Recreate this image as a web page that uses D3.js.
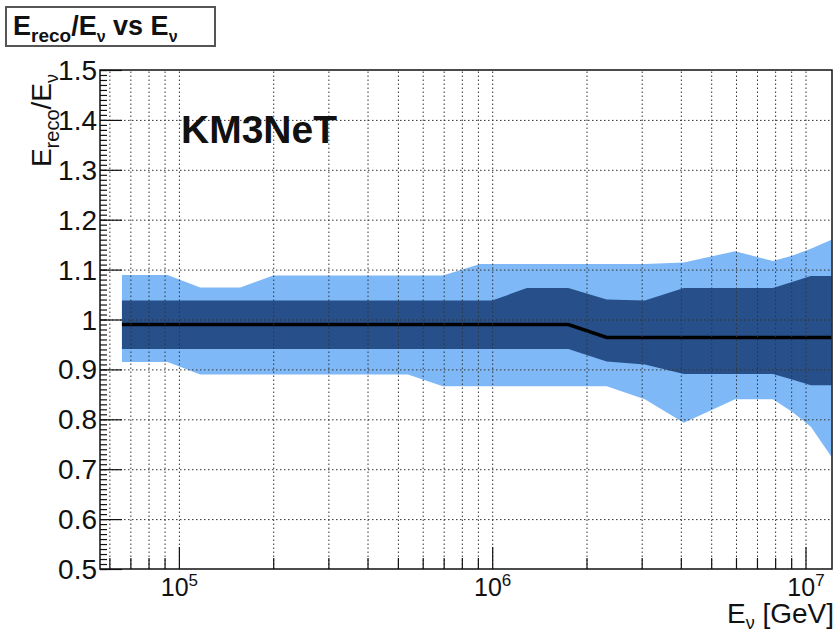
<!DOCTYPE html>
<html>
<head>
<meta charset="utf-8">
<script src="https://cdn.jsdelivr.net/npm/d3@7"></script>
<style>
  body { margin: 0; background: #fff; }
  svg text { font-family: "Liberation Sans", Arial, Helvetica, sans-serif; fill: #111; }
  .grid line { stroke: #333; stroke-width: 1; stroke-dasharray: 1.5,2.5; }
  .grid path { display: none; }
  .ax path { display: none; }
  .ax line { stroke: #111; stroke-width: 1.2; }
</style>
</head>
<body>
<svg id="chart" width="840" height="632"></svg>
<script>
// neutrino energy of each point [GeV]
var energies = [6.58e4, 9.2e4, 1.17e5, 1.57e5, 2.0e5, 5.38e5, 6.96e5, 9.14e5, 1.0e6, 1.29e6,
  1.75e6, 2.32e6, 3.07e6, 4.09e6, 5.96e6, 7.87e6, 9.06e6, 1.04e7, 1.21e7];
// Ereco/Enu : light band (outer), dark band (inner), median
var outerHigh = [1.089, 1.089, 1.064, 1.064, 1.088, 1.088, 1.088, 1.111, 1.111, 1.111,
  1.111, 1.111, 1.111, 1.114, 1.137, 1.117, 1.128, 1.142, 1.160];
var innerHigh = [1.038, 1.038, 1.038, 1.038, 1.038, 1.038, 1.038, 1.038, 1.038, 1.063,
  1.063, 1.040, 1.038, 1.063, 1.063, 1.063, 1.075, 1.087, 1.087];
var median = [0.990, 0.990, 0.990, 0.990, 0.990, 0.990, 0.990, 0.990, 0.990, 0.990,
  0.990, 0.964, 0.964, 0.964, 0.964, 0.964, 0.964, 0.964, 0.964];
var innerLow = [0.941, 0.941, 0.941, 0.941, 0.941, 0.941, 0.941, 0.941, 0.941, 0.941,
  0.941, 0.916, 0.910, 0.891, 0.891, 0.891, 0.880, 0.868, 0.868];
var outerLow = [0.915, 0.915, 0.890, 0.890, 0.890, 0.890, 0.866, 0.866, 0.866, 0.866,
  0.866, 0.866, 0.840, 0.793, 0.840, 0.840, 0.815, 0.785, 0.725];

var xDomain = [5.6e4, 1.215e7];
var yDomain = [0.5, 1.5];
var xLabelTicks = [1e5, 1e6, 1e7];
var xExponents = ["5", "6", "7"];
var yLabelTicks = [0.5, 0.6, 0.7, 0.8, 0.9, 1, 1.1, 1.2, 1.3, 1.4, 1.5];
var yGridTicks = [0.6, 0.7, 0.8, 0.9, 1, 1.1, 1.2, 1.3, 1.4];

var svg = d3.select('#chart');
var L = 100, R = 832, T = 70, B = 569;

var x = d3.scaleLog().domain(xDomain).range([L, R]);
var y = d3.scaleLinear().domain(yDomain).range([B, T]);

var pts = energies.map(function(e, i){
  return { e: e, oh: outerHigh[i], ih: innerHigh[i], m: median[i], il: innerLow[i], ol: outerLow[i] };
});

svg.append('rect').attr('width', 840).attr('height', 632).attr('fill', '#fff');

svg.append('clipPath').attr('id', 'plotclip')
  .append('rect').attr('x', L).attr('y', T).attr('width', R - L).attr('height', B - T);

var plot = svg.append('g').attr('clip-path', 'url(#plotclip)');

// bands
plot.append('path').datum(pts)
  .attr('fill', '#7fb8f6')
  .attr('d', d3.area().x(function(d){ return x(d.e); })
    .y0(function(d){ return y(d.ol); }).y1(function(d){ return y(d.oh); }));
plot.append('path').datum(pts)
  .attr('fill', '#27508b')
  .attr('d', d3.area().x(function(d){ return x(d.e); })
    .y0(function(d){ return y(d.il); }).y1(function(d){ return y(d.ih); }));

// grid on top of the bands (dotted)
svg.append('g').attr('class', 'grid')
  .attr('transform', 'translate(0,' + B + ')')
  .call(d3.axisBottom(x).tickValues(x.ticks()).tickSize(-(B - T)).tickFormat(''));
svg.append('g').attr('class', 'grid')
  .attr('transform', 'translate(' + L + ',0)')
  .call(d3.axisLeft(y).tickValues(yGridTicks).tickSize(-(R - L)).tickFormat(''));

// median
plot.append('path').datum(pts)
  .attr('fill', 'none').attr('stroke', '#000').attr('stroke-width', 3.5)
  .attr('d', d3.line().x(function(d){ return x(d.e); }).y(function(d){ return y(d.m); }));

// y axis: ticks inside the frame
var yMinor = d3.range(50, 151).map(function(k){ return k / 100; });
svg.append('g').attr('class', 'ax')
  .attr('transform', 'translate(' + L + ',0)')
  .call(d3.axisLeft(y).tickValues(yMinor).tickSize(-7).tickFormat(''));
var yAx = svg.append('g').attr('class', 'ax')
  .attr('transform', 'translate(' + L + ',0)')
  .call(d3.axisLeft(y).tickValues(yLabelTicks).tickSize(-22).tickPadding(3)
    .tickFormat(function(d){ return d == 1 ? '1' : d3.format('.1f')(d); }));
yAx.selectAll('text')
  .attr('font-size', 28).attr('dy', '0.34em');

// x axis: minor + decade ticks, labels as 10^n
var xMinor = x.ticks().filter(function(d){ return xLabelTicks.indexOf(d) < 0; });
svg.append('g').attr('class', 'ax')
  .attr('transform', 'translate(0,' + B + ')')
  .call(d3.axisBottom(x).tickValues(xMinor).tickSize(-11).tickFormat(''));
var xAx = svg.append('g').attr('class', 'ax')
  .attr('transform', 'translate(0,' + B + ')')
  .call(d3.axisBottom(x).tickValues(xLabelTicks).tickSize(-22).tickFormat(''));
xAx.selectAll('.tick text').remove();
xAx.selectAll('.tick').each(function(d, i){
  var t = d3.select(this).append('text')
    .attr('y', 27).attr('text-anchor', 'middle').attr('font-size', 25);
  t.append('tspan').text('10');
  t.append('tspan').attr('dy', -10).attr('font-size', 17).text(xExponents[i]);
});

// frame
svg.append('rect')
  .attr('x', L).attr('y', T).attr('width', R - L).attr('height', B - T)
  .attr('fill', 'none').attr('stroke', '#111').attr('stroke-width', 1.5);

// axis titles
var yt = svg.append('text')
  .attr('transform', 'translate(51,74) rotate(-90)')
  .attr('text-anchor', 'end').attr('font-size', 28);
yt.append('tspan').text('E');
yt.append('tspan').attr('dy', 8).attr('font-size', 20).text('reco');
yt.append('tspan').attr('dy', -8).text('/E');
yt.append('tspan').attr('dy', 7).attr('font-size', 18).text('\u03bd');

var xt = svg.append('text')
  .attr('x', 834).attr('y', 623)
  .attr('text-anchor', 'end').attr('font-size', 28);
xt.append('tspan').text('E');
xt.append('tspan').attr('dy', 6).attr('font-size', 18).text('\u03bd');
xt.append('tspan').attr('dy', -6).text(' [GeV]');

// experiment label
svg.append('text')
  .attr('x', 181).attr('y', 143)
  .attr('font-size', 39).attr('font-weight', 'bold')
  .text('KM3NeT');

// title box
svg.append('rect')
  .attr('x', 6).attr('y', 7).attr('width', 209).attr('height', 39)
  .attr('fill', '#fff').attr('stroke', '#555').attr('stroke-width', 2);
var tt = svg.append('text')
  .attr('x', 13).attr('y', 35)
  .attr('font-size', 27).attr('font-weight', 'bold');
tt.append('tspan').text('E');
tt.append('tspan').attr('dy', 7).attr('font-size', 19).text('reco');
tt.append('tspan').attr('dy', -7).text('/E');
tt.append('tspan').attr('dy', 7).attr('font-size', 16).text('\u03bd');
tt.append('tspan').attr('dy', -7).text(' vs E');
tt.append('tspan').attr('dy', 7).attr('font-size', 16).text('\u03bd');
</script>
</body>
</html>
